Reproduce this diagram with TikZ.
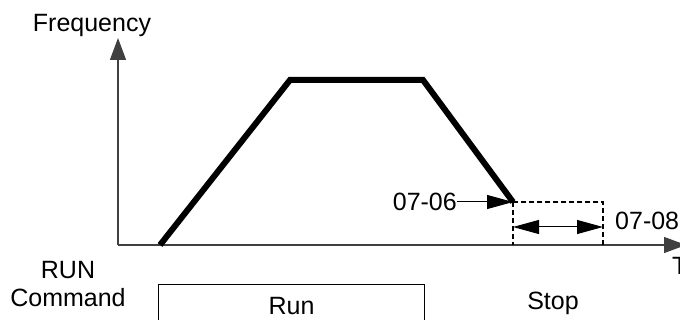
\documentclass[tikz,border=0pt]{standalone}
\usepackage{fontspec}
\setmainfont{Liberation Sans}
\usetikzlibrary{arrows.meta,positioning}

\begin{document}
\begin{tikzpicture}[
    x=1pt,y=-1pt,
    font=\fontsize{25}{28}\selectfont,
    axis/.style={-{Triangle[length=22pt,width=16pt]},line width=1.3pt,draw=black!75},
    ramp/.style={line width=6pt,line join=miter},
    pointer/.style={-{Triangle[length=26pt,width=14pt]},line width=1pt},
    span/.style={{Triangle[length=26pt,width=14pt]}-{Triangle[length=26pt,width=14pt]},line width=1pt},
    window/.style={line width=1.3pt,dash pattern=on 5pt off 3pt},
    cmdbox/.style={draw,line width=1pt,anchor=north west,minimum height=44pt},
    lbl/.style={inner sep=0pt},
]
\clip (0,0) rectangle (680,320);

% =====================================================================
%  Axes
% =====================================================================
\coordinate (origin) at (118,245);
\coordinate (ytip)   at (118,38);
\coordinate (xtip)   at (686,245);
\draw[axis] (origin) -- (ytip);
\draw[axis] (origin) -- (xtip);

\node[lbl] (freq) at (92,25) {Frequency};
\node[lbl,anchor=west] (time) at (672,266) {Time};

% =====================================================================
%  Frequency profile: accel, constant speed, decel to 07-06
% =====================================================================
\coordinate (p0) at (160,245);
\coordinate (p1) at (290,80);
\coordinate (p2) at (423,80);
\coordinate (p3) at (513,202);
\draw[ramp] (p0) -- (p1) -- (p2) -- (p3);

\node[lbl,anchor=east] (lbl0706) at (457,202) {07-06};
\draw[pointer] (lbl0706.east) -- (p3);

% dashed window after the stop point, width = 07-08
\coordinate (wtr) at (603,202);
\coordinate (wbr) at (603,245);
\coordinate (wbl) at (513,245);
\draw[window] (p3) -- (wtr) -- (wbr);
\draw[window] (p3) -- (wbl);

\coordinate (s1) at (513,227);
\coordinate (s2) at (603,227);
\draw[span] (s1) -- (s2);
\node[lbl,anchor=west] (lbl0708) at (615,221) {07-08};

% =====================================================================
%  RUN command
% =====================================================================
\node[lbl,align=center] (runcmd) at (68,284) {RUN\\Command};
\node[cmdbox,minimum width=266pt] (run) at (158,284) {Run};
\node[lbl] (stop) at (553,303) {Stop};

\end{tikzpicture}
\end{document}
